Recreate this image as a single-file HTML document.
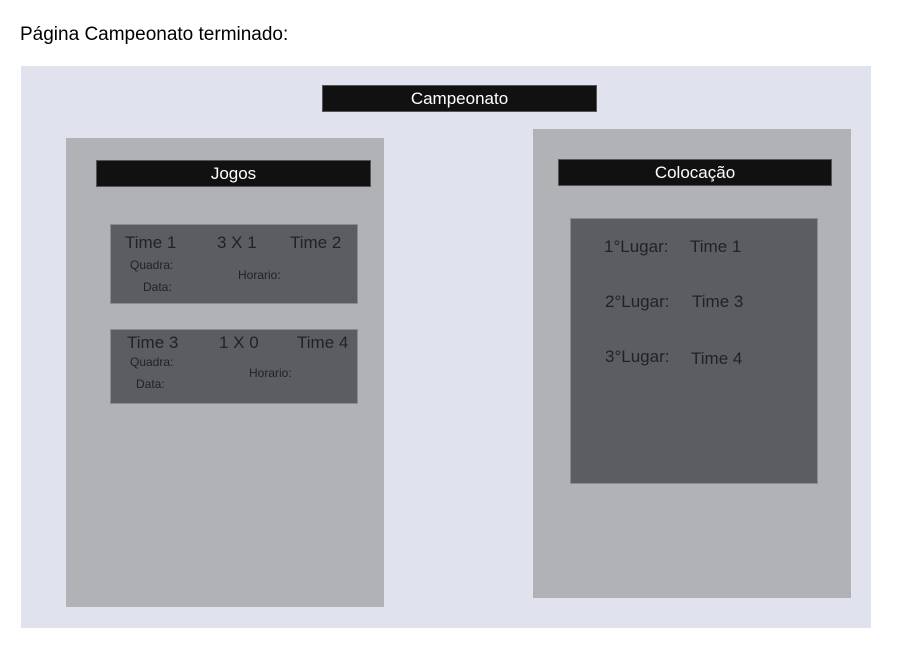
<!DOCTYPE html>
<html><head><meta charset="utf-8"><style>
body{margin:0;width:900px;height:650px;background:#fff;position:relative;font-family:"Liberation Sans",sans-serif;overflow:hidden}
div{position:absolute;box-sizing:border-box}
.bar{background:#111;color:#fff;font-size:17px;text-align:center;border:1px solid #555}
.p{background:#b1b2b6}
.d{background:#5c5d62;border:1px solid #8a8b90}
.t{color:#222;white-space:nowrap}
</style></head><body>
<div class="t" style="left:20px;top:24px;font-size:19px;color:#000">Página Campeonato terminado:</div>
<div style="left:21px;top:66px;width:850px;height:562px;background:#e0e2ed"></div>
<div class="bar" style="left:322px;top:85px;width:275px;height:27px;line-height:26px">Campeonato</div>
<div class="p" style="left:66px;top:138px;width:318px;height:469px"></div>
<div class="bar" style="left:96px;top:160px;width:275px;height:27px;line-height:26px">Jogos</div>
<div class="p" style="left:533px;top:129px;width:318px;height:469px"></div>
<div class="bar" style="left:558px;top:159px;width:274px;height:27px;line-height:26px">Colocação</div>
<div class="d" style="left:110px;top:224px;width:248px;height:80px"></div>
<div class="t" style="left:125px;top:233px;font-size:17px">Time 1</div>
<div class="t" style="left:217px;top:233px;font-size:17px">3 X 1</div>
<div class="t" style="left:290px;top:233px;font-size:17px">Time 2</div>
<div class="t" style="left:130px;top:258px;font-size:12px">Quadra:</div>
<div class="t" style="left:143px;top:280px;font-size:12px">Data:</div>
<div class="t" style="left:238px;top:268px;font-size:12px">Horario:</div>
<div class="d" style="left:110px;top:329px;width:248px;height:75px"></div>
<div class="t" style="left:127px;top:333px;font-size:17px">Time 3</div>
<div class="t" style="left:219px;top:333px;font-size:17px">1 X 0</div>
<div class="t" style="left:297px;top:333px;font-size:17px">Time 4</div>
<div class="t" style="left:130px;top:355px;font-size:12px">Quadra:</div>
<div class="t" style="left:136px;top:377px;font-size:12px">Data:</div>
<div class="t" style="left:249px;top:366px;font-size:12px">Horario:</div>
<div class="d" style="left:570px;top:218px;width:248px;height:266px"></div>
<div class="t" style="left:604px;top:237px;font-size:17px">1°Lugar:</div>
<div class="t" style="left:690px;top:237px;font-size:17px">Time 1</div>
<div class="t" style="left:605px;top:292px;font-size:17px">2°Lugar:</div>
<div class="t" style="left:692px;top:292px;font-size:17px">Time 3</div>
<div class="t" style="left:605px;top:347px;font-size:17px">3°Lugar:</div>
<div class="t" style="left:691px;top:349px;font-size:17px">Time 4</div>
</body></html>
